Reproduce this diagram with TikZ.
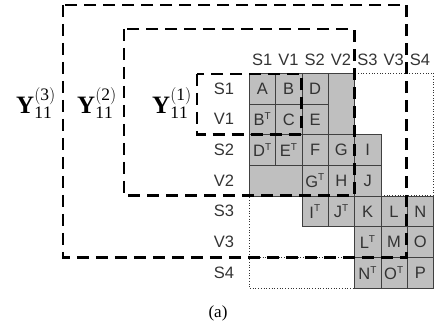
\documentclass[tikz,border=0pt]{standalone}
\usepackage{fontspec}
\setmainfont{Liberation Serif}
\newfontfamily\arial{Liberation Sans}
\newcommand\cellbox[6]{%
  \pgfmathsetmacro\cx{249+#1*26.3}%
  \pgfmathsetmacro\cy{73+#2*30.7}%
  \pgfmathsetmacro\cwd{#3*26.3}%
  \pgfmathsetmacro\cht{#4*30.7}%
  \node[cell, minimum width=\cwd pt, minimum height=\cht pt] (#6) at (\cx,\cy) [anchor=north west] {#5};}
\newcommand\tp[1]{#1\textsuperscript{\fontsize{10}{10}\selectfont T}}
\begin{document}
\begin{tikzpicture}[x=1pt,y=-1pt,
  lab/.style={font=\arial\fontsize{16.5}{16.5}\selectfont, text=black!80, inner sep=0pt},
  cell/.style={lab, draw=black!75, fill=gray!50, line width=0.6pt},
  dbox/.style={draw=black, line width=2.8pt, dash pattern=on 12pt off 7pt},
  dots/.style={draw=black!80, line width=0.7pt, dotted},
  ylab/.style={font=\fontsize{25}{25}\selectfont, inner sep=0pt}]
\useasboundingbox (0,0) rectangle (437,328);
% dotted block outline
\coordinate (gtl) at (249,73);
\coordinate (gbr) at (433.1,288);
\draw[dots] (gtl) rectangle (gbr);
\coordinate (h4a) at (249,195.8); \coordinate (h4b) at (433.1,195.8);
\coordinate (h6a) at (249,257.2); \coordinate (h6b) at (433.1,257.2);
\draw[dots] (h4a) -- (h4b);
\draw[dots] (h6a) -- (h6b);
% gray cells
\cellbox{0}{0}{1}{1}{A}{cA}
\cellbox{1}{0}{1}{1}{B}{cB}
\cellbox{2}{0}{1}{1}{D}{cD}
\cellbox{3}{0}{1}{2}{}{c30}
\cellbox{0}{1}{1}{1}{\tp{B}}{cBT}
\cellbox{1}{1}{1}{1}{C}{cC}
\cellbox{2}{1}{1}{1}{E}{cE}
\cellbox{0}{2}{1}{1}{\tp{D}}{cDT}
\cellbox{1}{2}{1}{1}{\tp{E}}{cET}
\cellbox{2}{2}{1}{1}{F}{cF}
\cellbox{3}{2}{1}{1}{G}{cG}
\cellbox{4}{2}{1}{1}{I}{cI}
\cellbox{0}{3}{2}{1}{}{c03}
\cellbox{2}{3}{1}{1}{\tp{G}}{cGT}
\cellbox{3}{3}{1}{1}{H}{cH}
\cellbox{4}{3}{1}{1}{J}{cJ}
\cellbox{2}{4}{1}{1}{\tp{I}}{cIT}
\cellbox{3}{4}{1}{1}{\tp{J}}{cJT}
\cellbox{4}{4}{1}{1}{K}{cK}
\cellbox{5}{4}{1}{1}{L}{cL}
\cellbox{6}{4}{1}{1}{N}{cN}
\cellbox{4}{5}{1}{1}{\tp{L}}{cLT}
\cellbox{5}{5}{1}{1}{M}{cM}
\cellbox{6}{5}{1}{1}{O}{cO}
\cellbox{4}{6}{1}{1}{\tp{N}}{cNT}
\cellbox{5}{6}{1}{1}{\tp{O}}{cOT}
\cellbox{6}{6}{1}{1}{P}{cP}
% column labels
\foreach \t [count=\i from 0] in {S1,V1,S2,V2,S3,V3,S4}{
  \pgfmathsetmacro\xx{249+(\i+0.5)*26.3}
  \node[lab] (col\i) at (\xx,60) {\t};
  \pgfmathsetmacro\yy{73+(\i+0.5)*30.7}
  \node[lab] (row\i) at (224,\yy) {\t};
}
% dashed boxes
\coordinate (y3a) at (63,5);   \coordinate (y3b) at (406.8,257.2);
\coordinate (y2a) at (124,29); \coordinate (y2b) at (354.2,195.8);
\coordinate (y1a) at (197,74); \coordinate (y1b) at (301.6,134.4);
\draw[dbox] (y3a) rectangle (y3b);
\draw[dbox] (y2a) rectangle (y2b);
\draw[dbox] (y1a) rectangle (y1b);
% Y labels
\node[ylab] (Y3) at (36,103) {$\mathbf{Y}_{\mathrm{11}}^{\mathrm{(3)}}$};
\node[ylab] (Y2) at (97,103) {$\mathbf{Y}_{\mathrm{11}}^{\mathrm{(2)}}$};
\node[ylab] (Y1) at (172,103) {$\mathbf{Y}_{\mathrm{11}}^{\mathrm{(1)}}$};
% caption
\node[font=\fontsize{17}{17}\selectfont, inner sep=0pt] (cap) at (218,313) {(a)};
\end{tikzpicture}
\end{document}
